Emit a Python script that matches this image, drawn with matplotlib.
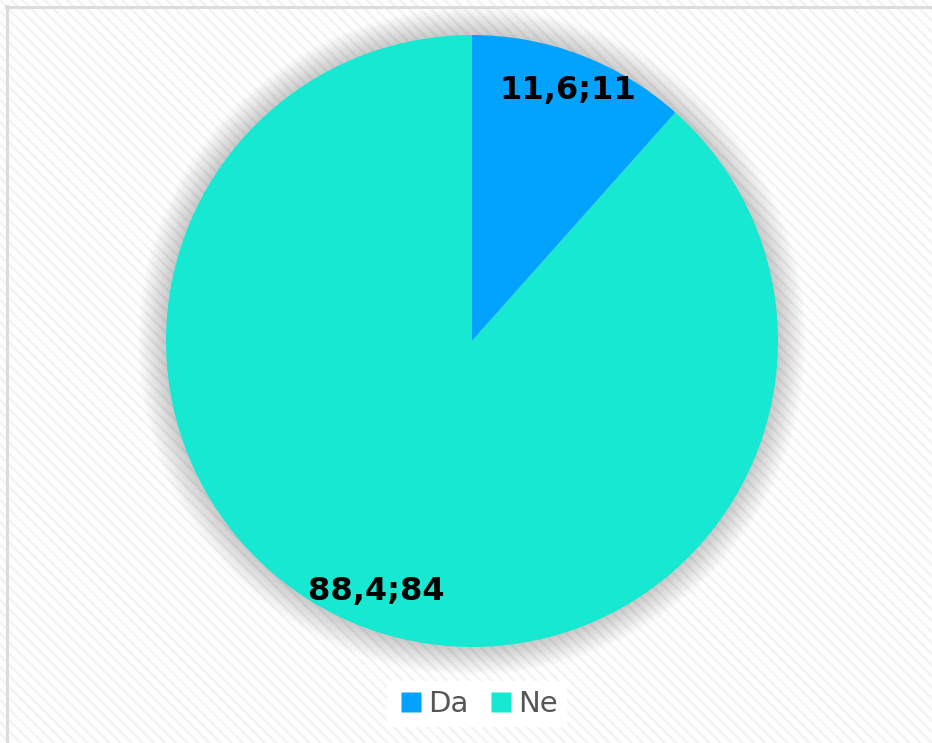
import matplotlib.pyplot as plt
from matplotlib.patches import Rectangle, Circle
from matplotlib.lines import Line2D

# data
categories = ['Da', 'Ne']
counts = [11, 84]
percents = [11.6, 88.4]
colors = ['#02a3fe', '#17e8d2']

plt.rcParams['hatch.linewidth'] = 1.8

W, H = 932, 743
fig = plt.figure(figsize=(W / 100, H / 100), dpi=100)

# hatched background + left/top border
bg = fig.add_axes([0, 0, 1, 1])
bg.set_xlim(0, W)
bg.set_ylim(H, 0)
bg.axis('off')
bg.add_patch(Rectangle((0, 0), W, H, facecolor='white', edgecolor='#f3f3f3',
                       hatch='\\\\\\', linewidth=0))
bg.plot([7, 7], [6, H], color='#dcdcdc', lw=2.2)
bg.plot([6, W], [7, 7], color='#dcdcdc', lw=2.2)

# pie axes
cx, cy, r = 472, 341, 306
ax = fig.add_axes([(cx - r) / W, (H - cy - r) / H, 2 * r / W, 2 * r / H])
ax.set_xlim(-1, 1)
ax.set_ylim(-1, 1)
ax.set_aspect('equal')
ax.axis('off')

# soft shadow
for k in range(10):
    ax.add_patch(Circle((0, 0), 1.0 + 0.009 * (k + 1), facecolor='#000000',
                        alpha=0.018, edgecolor='none', zorder=0, clip_on=False))

labels = [f"{p:.1f};{c}".replace('.', ',') for p, c in zip(percents, counts)]
wedges, texts = ax.pie(counts, colors=colors, startangle=90, counterclock=False,
                       radius=1.0, labels=labels, labeldistance=0.875,
                       wedgeprops=dict(linewidth=0),
                       textprops=dict(fontsize=23, fontweight='bold', color='black',
                                      ha='center', va='center'))
for t in texts:
    t.set_ha('center')
    t.set_va('center')
ax.set_xlim(-1, 1)
ax.set_ylim(-1, 1)

handles = [Line2D([], [], marker='s', linestyle='none', markersize=14,
                  markerfacecolor=c, markeredgecolor='none') for c in colors]
leg = fig.legend(handles, categories, loc='center', bbox_to_anchor=(477 / W, 1 - 704 / H),
                 ncol=2, frameon=True, fontsize=21, handletextpad=0.1,
                 columnspacing=0.6, borderpad=0.3, handlelength=1.0)
leg.get_frame().set_facecolor('white')
leg.get_frame().set_edgecolor('none')
leg.get_frame().set_alpha(1)
leg.get_frame().set_boxstyle('square', pad=0.0)
for t in leg.get_texts():
    t.set_color('#555555')

fig.savefig('out.png', dpi=100)
